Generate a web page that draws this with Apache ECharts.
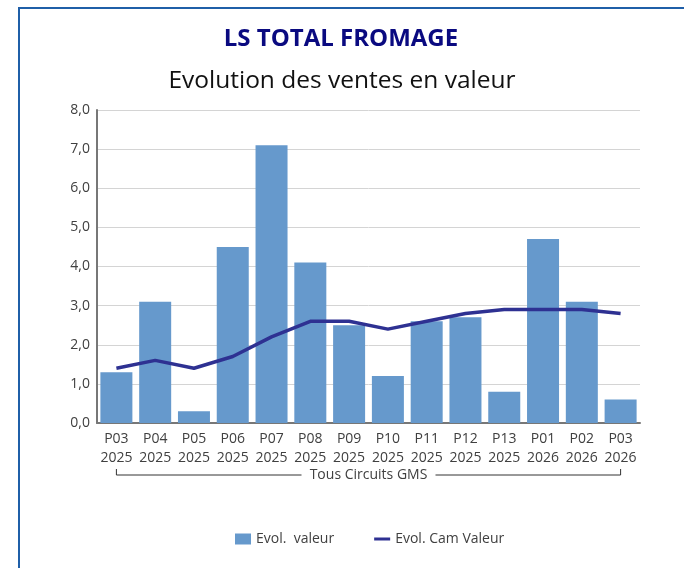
<!DOCTYPE html>
<html>
<head>
<meta charset="utf-8">
<script src="https://cdn.jsdelivr.net/npm/echarts@6/dist/echarts.min.js"></script>
<style>
  html, body { margin: 0; padding: 0; background: #fff; }
  #chart { width: 684px; height: 568px; }
</style>
</head>
<body>
<div id="chart"></div>
<script>
const periods = ["P03\n2025", "P04\n2025", "P05\n2025", "P06\n2025", "P07\n2025", "P08\n2025", "P09\n2025",
                 "P10\n2025", "P11\n2025", "P12\n2025", "P13\n2025", "P01\n2026", "P02\n2026", "P03\n2026"];
const evolValeur = [1.3, 3.1, 0.3, 4.5, 7.1, 4.1, 2.5, 1.2, 2.6, 2.7, 0.8, 4.7, 3.1, 0.6];
const evolCam = [1.4, 1.6, 1.4, 1.7, 2.2, 2.6, 2.6, 2.4, 2.6, 2.8, 2.9, 2.9, 2.9, 2.8];
const groupLabel = "Tous Circuits GMS";

const font = "'Open Sans', 'Noto Sans', sans-serif";
const chart = echarts.init(document.getElementById("chart"));

const option = {
    animation: false,
    textStyle: { fontFamily: font },
    title: [
        { text: "LS TOTAL FROMAGE", left: 336, textAlign: "center", top: 22,
          textStyle: { fontSize: 24, fontWeight: "bold", color: "#0a0a80", fontFamily: font } },
        { text: "Evolution des ventes en valeur", left: 337, textAlign: "center", top: 64,
          textStyle: { fontSize: 24.5, fontWeight: "normal", color: "#111", fontFamily: font } }
    ],
    grid: { left: 97, right: 44, top: 110, bottom: 145 },
    legend: {
        bottom: 17, left: 230, itemGap: 40, itemWidth: 16, itemHeight: 11,
        symbolKeepAspect: true,
        textStyle: { fontSize: 14, color: "#404040", fontFamily: font },
        data: [
            { name: "Evol.  valeur", icon: "rect", itemStyle: { color: "#6699cc" } },
            { name: "Evol. Cam Valeur", icon: "path://M0,0h16v3h-16z", itemStyle: { color: "#2e3192" } }
        ]
    },
    xAxis: {
        type: "category", data: periods,
        axisLine: { lineStyle: { color: "#777", width: 2 } },
        axisTick: { show: false },
        axisLabel: { color: "#404040", fontSize: 14, lineHeight: 19, margin: 7, interval: 0, fontFamily: font }
    },
    yAxis: {
        type: "value", min: 0, max: 8, interval: 1,
        axisLine: { show: true, lineStyle: { color: "#777", width: 2 } },
        axisLabel: { color: "#404040", fontSize: 14, margin: 7, fontFamily: font,
                     formatter: v => v.toFixed(1).replace(".", ",") },
        splitLine: { lineStyle: { color: "#d4d4d4", width: 1 } }
    },
    series: [
        { name: "Evol.  valeur", type: "bar", data: evolValeur, barWidth: 32,
          itemStyle: { color: "#6699cc" } },
        { name: "Evol. Cam Valeur", type: "line", data: evolCam, symbol: "none",
          lineStyle: { color: "#2e3192", width: 3.5 }, itemStyle: { color: "#2e3192" } }
    ]
};

chart.setOption(option);

// bracket under the category labels
const x0 = chart.convertToPixel({ xAxisIndex: 0 }, 0);
const x1 = chart.convertToPixel({ xAxisIndex: 0 }, periods.length - 1);
const yb = 475, mid = (x0 + x1) / 2;
chart.setOption({
    graphic: [
        { type: "rect", shape: { x: 19, y: 8, width: 700, height: 600 },
          style: { fill: "none", stroke: "#1f5fa8", lineWidth: 2 }, silent: true },
        { type: "polyline", shape: { points: [[x0, yb - 6], [x0, yb], [mid - 67, yb]] },
          style: { stroke: "#333", lineWidth: 1, fill: "none" } },
        { type: "polyline", shape: { points: [[mid + 67, yb], [x1, yb], [x1, yb - 6]] },
          style: { stroke: "#333", lineWidth: 1, fill: "none" } },
        { type: "text", x: mid, y: yb, style: { text: groupLabel, align: "center", verticalAlign: "middle",
          fontSize: 14, fill: "#404040", fontFamily: font } }
    ]
});
</script>
</body>
</html>
